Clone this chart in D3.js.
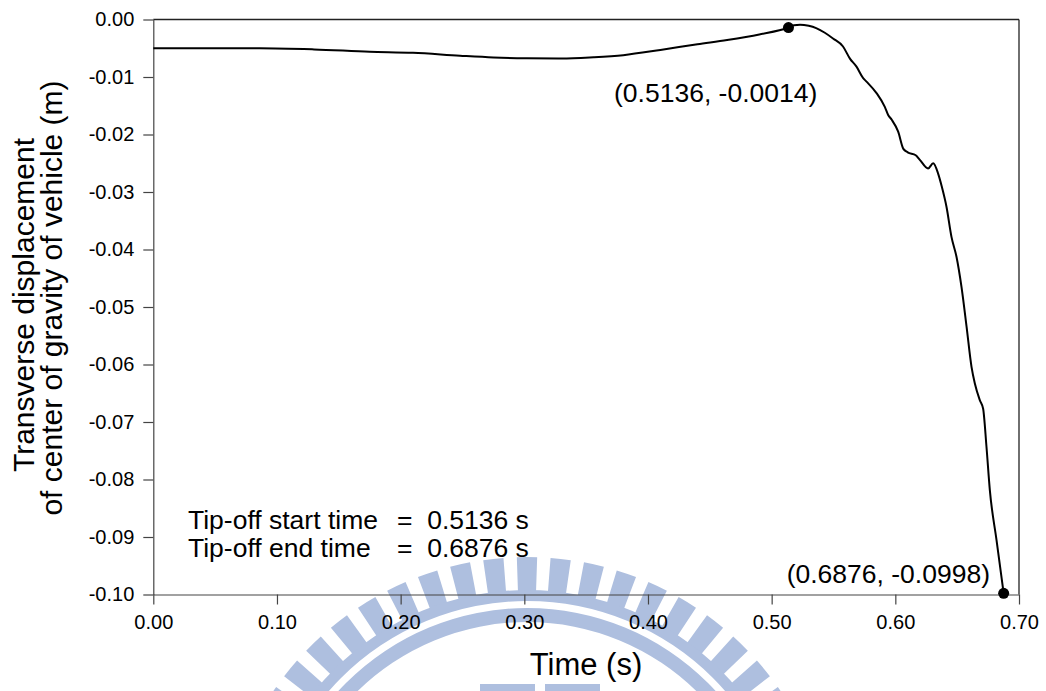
<!DOCTYPE html>
<html>
<head>
<meta charset="utf-8">
<script src="https://cdn.jsdelivr.net/npm/d3@7"></script>
<style>
  html, body { margin: 0; padding: 0; background: #fff; }
  text { font-family: "Liberation Sans", Arial, sans-serif; }
</style>
</head>
<body>
<div id="viz"></div>
<script>
// time (s)
const times = [0, 0.05, 0.086, 0.13, 0.175, 0.21, 0.248, 0.275, 0.302, 0.33, 0.356, 0.38, 0.41, 0.44,
  0.464, 0.49, 0.5136, 0.518, 0.523, 0.530, 0.536, 0.543, 0.5496, 0.5577, 0.5633, 0.5686, 0.574,
  0.5767, 0.5848, 0.5915, 0.5942, 0.597, 0.6023, 0.6065, 0.610, 0.6165, 0.6198, 0.6265, 0.6306,
  0.6346, 0.6375, 0.6414, 0.6454, 0.6495, 0.6535, 0.6576, 0.6616, 0.6643, 0.6683, 0.671, 0.6737,
  0.6764, 0.6818, 0.6876];
// transverse displacement (m)
const disp = [-0.0050, -0.0050, -0.0050, -0.0052, -0.0056, -0.0058, -0.0063, -0.0066, -0.00675, -0.0068,
  -0.00657, -0.0062, -0.0053, -0.0043, -0.00357, -0.0026, -0.0014, -0.0010, -0.0009, -0.0011, -0.0015,
  -0.0023, -0.0033, -0.0047, -0.0068, -0.0082, -0.0102, -0.0108, -0.0128, -0.0152, -0.0166, -0.0174,
  -0.0195, -0.0225, -0.0231, -0.0236, -0.0244, -0.0259, -0.0250, -0.0268, -0.0290, -0.0326, -0.0378,
  -0.0413, -0.0465, -0.0534, -0.0604, -0.0633, -0.0662, -0.0677, -0.0743, -0.0818, -0.0905, -0.0998];

const marked = [[0.5136, -0.0014], [0.6876, -0.0998]];
const xTicks = [0, 0.1, 0.2, 0.3, 0.4, 0.5, 0.6, 0.7];
const yTicks = [0, -0.01, -0.02, -0.03, -0.04, -0.05, -0.06, -0.07, -0.08, -0.09, -0.1];

const width = 1046;
const height = 691;

const svg = d3.select("#viz").append("svg")
    .attr("width", width)
    .attr("height", height);

const x = d3.scaleLinear().domain([0, 0.7]).range([153.3, 1019]);
const y = d3.scaleLinear().domain([-0.1, 0]).range([594.5, 19.5]);

// watermark (university emblem, faint blue)
const wm = svg.append("g").attr("transform", "translate(527,864)").attr("fill", "#aebfdf");
const rad = Math.PI / 180;
const bar = d3.arc().innerRadius(272).outerRadius(307);
d3.range(-28, 29).forEach(i => {
    const a = i * 6.3 * rad;
    wm.append("path").attr("d", bar({ startAngle: a - 1.9 * rad, endAngle: a + 1.9 * rad }));
});
wm.append("path").attr("d", d3.arc().innerRadius(263).outerRadius(274)({ startAngle: -Math.PI, endAngle: Math.PI }));
wm.append("path").attr("d", d3.arc().innerRadius(242).outerRadius(256)({ startAngle: -Math.PI, endAngle: Math.PI }));
wm.append("rect").attr("x", -47).attr("y", -180).attr("width", 55).attr("height", 12);
wm.append("rect").attr("x", 18).attr("y", -180).attr("width", 55).attr("height", 12);

// frame top / right
svg.append("line").attr("x1", x(0)).attr("x2", x(0.7)).attr("y1", y(0)).attr("y2", y(0))
    .attr("stroke", "#222").attr("stroke-width", 1.3);
svg.append("line").attr("x1", x(0.7)).attr("x2", x(0.7)).attr("y1", y(0)).attr("y2", y(-0.1))
    .attr("stroke", "#222").attr("stroke-width", 1.3);

const xAxis = svg.append("g")
    .attr("transform", `translate(0,${y(-0.1)})`)
    .call(d3.axisBottom(x).tickValues(xTicks).tickSize(10).tickSizeOuter(0).tickPadding(10)
        .tickFormat(d => d.toFixed(2)));

const yAxis = svg.append("g")
    .attr("transform", `translate(${x(0)},0)`)
    .call(d3.axisLeft(y).tickValues(yTicks).tickSize(10).tickSizeOuter(0).tickPadding(9)
        .tickFormat(d => d.toFixed(2)));

[xAxis, yAxis].forEach(g => {
    g.selectAll("path, line").attr("stroke", "#444").attr("stroke-width", 1.2);
    g.selectAll("text").attr("fill", "#000").style("font-size", "20px")
        .style("font-family", "'Liberation Sans', Arial, sans-serif");
});

// curve
const line = d3.line()
    .x(d => x(d[0]))
    .y(d => y(d[1]))
    .curve(d3.curveMonotoneX);

svg.append("path")
    .datum(times.map((t, i) => [t, disp[i]]))
    .attr("d", line)
    .attr("fill", "none")
    .attr("stroke", "#000")
    .attr("stroke-width", 2);

svg.selectAll("circle.mark")
    .data(marked)
    .enter()
    .append("circle")
    .attr("class", "mark")
    .attr("cx", d => x(d[0]))
    .attr("cy", d => y(d[1]))
    .attr("r", 5.5)
    .attr("fill", "#000");

// annotations
svg.append("text").attr("x", 614).attr("y", 102).style("font-size", "26.5px").text("(0.5136, -0.0014)");
svg.append("text").attr("x", 990).attr("y", 583).attr("text-anchor", "end").style("font-size", "26.5px").text("(0.6876, -0.0998)");

svg.append("text").attr("x", 188).attr("y", 529).style("font-size", "26.5px").text("Tip-off start time");
svg.append("text").attr("x", 397).attr("y", 529).style("font-size", "26.5px").style("white-space", "pre").text("=  0.5136 s");
svg.append("text").attr("x", 188).attr("y", 557).style("font-size", "26.5px").text("Tip-off end time");
svg.append("text").attr("x", 397).attr("y", 557).style("font-size", "26.5px").style("white-space", "pre").text("=  0.6876 s");

// axis titles
svg.append("text").attr("x", 586).attr("y", 675).attr("text-anchor", "middle").style("font-size", "31px").text("Time (s)");

svg.append("text").attr("transform", "translate(34,305) rotate(-90)").attr("text-anchor", "middle")
    .style("font-size", "30px").text("Transverse displacement");
svg.append("text").attr("transform", "translate(62,298) rotate(-90)").attr("text-anchor", "middle")
    .style("font-size", "30px").text("of center of gravity of vehicle (m)");
</script>
</body>
</html>
